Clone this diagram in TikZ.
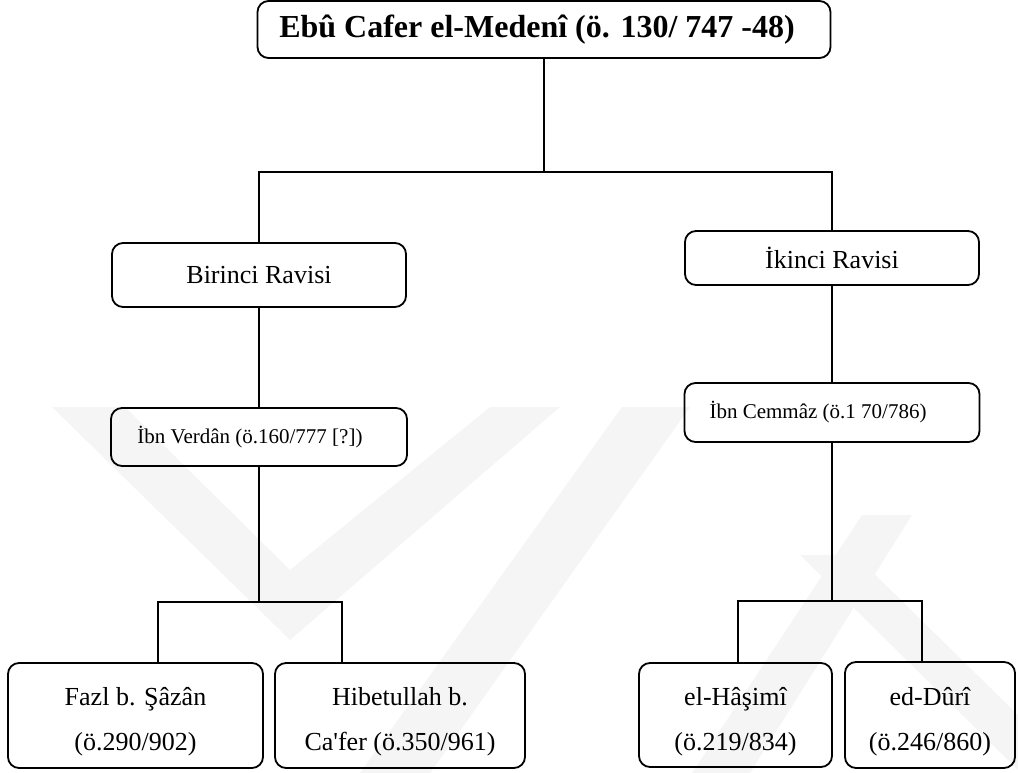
\documentclass[tikz,border=0pt]{standalone}
\usepackage{fontspec}
\setmainfont{Liberation Serif}[Ligatures=TeXOff]
% extra room above the first line of the two-line boxes
\newcommand{\toproom}{\rule{0pt}{31pt}}
\begin{document}
\begin{tikzpicture}[x=1pt,y=-1pt,
  box/.style={draw, line width=1.8pt, rounded corners=11pt, inner sep=0pt, align=center},
  namebox/.style={box, font=\fontsize{26}{45}\selectfont},
  datebox/.style={box, font=\fontsize{21}{25}\selectfont},
  link/.style={line width=1.4pt},
  wm/.style={fill=black!4, draw=none}
]
\useasboundingbox (0,0) rectangle (1018,773);

% faint background emblem
\fill[wm] (52,407) -- (125,407) -- (290,570) -- (490,407) -- (560,407) -- (290,640) -- cycle;
\fill[wm] (360,773) -- (430,773) -- (690,407) -- (622,407) -- cycle;
\fill[wm] (692,773) -- (750,773) -- (912,515) -- (862,515) -- cycle;
\fill[wm] (800,555) -- (855,555) -- (1018,715) -- (1018,770) -- cycle;

% root
\node[box, minimum width=573pt, minimum height=57pt,
      font=\fontsize{32}{38}\selectfont\bfseries] (root) at (544,29.5)
      {Ebû Cafer el-Medenî (ö. 130/ 747 -48)\hspace{14pt}};

% first level
\node[namebox, minimum width=294pt, minimum height=64pt] (r1) at (259,275) {Birinci Ravisi};
\node[namebox, minimum width=294pt, minimum height=54pt] (r2) at (832,258) {İkinci Ravisi};

% second level
\node[datebox, minimum width=296pt, minimum height=58pt] (t1) at (259,437)
      {İbn Verdân (ö.160/777 [?])\hspace{18pt}};
\node[datebox, minimum width=295pt, minimum height=59pt] (t2) at (832,412.5)
      {İbn Cemmâz (ö.1 70/786)\hspace{28pt}};

% third level
\node[namebox, minimum width=255pt, minimum height=105pt] (fazl) at (135.5,715.5)
      {\toproom Fazl b. Şâzân\\(ö.290/902)};
\node[namebox, minimum width=250pt, minimum height=105pt] (hib) at (400,715.5)
      {\toproom Hibetullah b.\\Ca'fer (ö.350/961)};
\node[namebox, minimum width=193pt, minimum height=104pt] (has) at (735.5,715)
      {\toproom el-Hâşimî\\(ö.219/834)};
\node[namebox, minimum width=170pt, minimum height=106pt] (dur) at (930,715)
      {\toproom ed-Dûrî\\(ö.246/860)};

% junction points
\coordinate (hl) at (258,172);
\coordinate (hr) at (832,172);
\coordinate (s1) at (258,602);
\coordinate (s1l) at (158,602);
\coordinate (s1r) at (342,602);
\coordinate (s2) at (832,601);
\coordinate (s2l) at (738,601);
\coordinate (s2r) at (922,601);

% connectors
\draw[link] (root.south) -- (root.south |- hl);
\draw[link] (r1.north) -- (r1.north |- hl) -- (r2.north |- hr) -- (r2.north);
\draw[link] (r1.south) -- (t1.north);
\draw[link] (r2.south) -- (t2.north);

\draw[link] (t1.south) -- (t1.south |- s1);
\draw[link] (s1l |- fazl.north) -- (s1l) -- (s1r) -- (s1r |- hib.north);

\draw[link] (t2.south) -- (t2.south |- s2);
\draw[link] (s2l |- has.north) -- (s2l) -- (s2r) -- (s2r |- dur.north);
\end{tikzpicture}
\end{document}
